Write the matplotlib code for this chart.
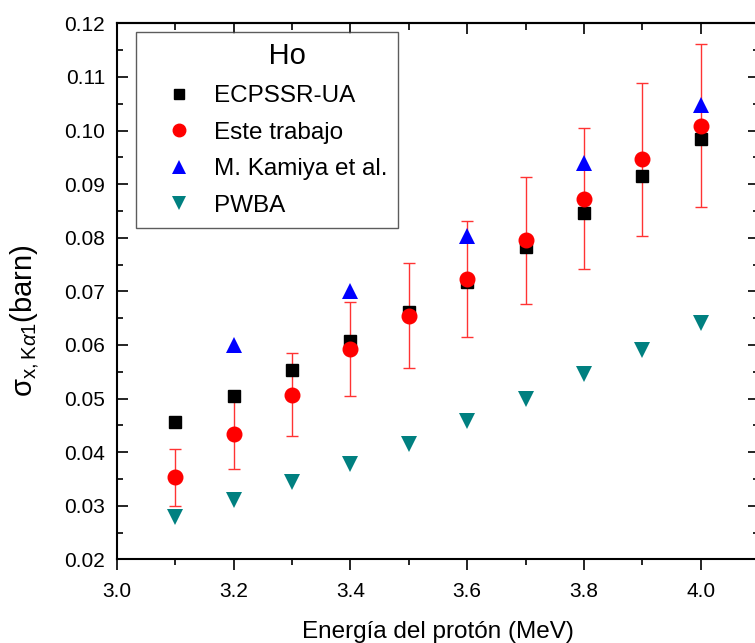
"""Ho K-alpha1 x-ray production cross sections vs proton energy."""

import matplotlib

matplotlib.use("Agg")
import matplotlib.pyplot as plt
from matplotlib.lines import Line2D
from matplotlib.ticker import MultipleLocator

plt.rcParams["font.family"] = ["Liberation Sans", "DejaVu Sans"]
plt.rcParams["mathtext.fontset"] = "custom"
plt.rcParams["mathtext.rm"] = "Liberation Sans"
plt.rcParams["mathtext.it"] = "Liberation Sans:italic"
plt.rcParams["mathtext.sf"] = "Liberation Sans"

# proton energy (MeV)
energy = [3.1, 3.2, 3.3, 3.4, 3.5, 3.6, 3.7, 3.8, 3.9, 4.0]
ecpssr_ua = [0.0456, 0.0505, 0.0553, 0.0607, 0.0662, 0.0718, 0.0783, 0.0847, 0.0915, 0.0985]
este_trabajo = [0.0353, 0.0433, 0.0507, 0.0592, 0.0654, 0.0723, 0.0795, 0.0873, 0.0946, 0.1009]
este_err = [0.0053, 0.0065, 0.0077, 0.0088, 0.0098, 0.0108, 0.0119, 0.0131, 0.0142, 0.0152]
pwba = [0.0279, 0.0310, 0.0344, 0.0377, 0.0416, 0.0458, 0.0500, 0.0545, 0.0591, 0.0641]

kamiya_energy = [3.2, 3.4, 3.6, 3.8, 4.0]
kamiya = [0.0600, 0.0700, 0.0804, 0.0940, 0.1048]

RED = "#ff0000"
BLUE = "#0000ff"
TEAL = "#008080"

fig = plt.figure(figsize=(7.55, 6.43), dpi=100)
# right spine sits just beyond the picture edge, as in the original export
ax = fig.add_axes([117 / 755, 83.7 / 643, 642 / 755, 536 / 643])

ax.errorbar(energy, este_trabajo, yerr=este_err, fmt="none", ecolor="#ff3333",
            elinewidth=1.0, capsize=4, capthick=1.0, zorder=2)
ax.plot(energy, ecpssr_ua, "s", color="black", markersize=8.5, zorder=3)
ax.plot(energy, este_trabajo, "o", color=RED, markersize=10.5, zorder=4)
ax.plot(kamiya_energy, kamiya, "^", color=BLUE, markersize=11, markeredgewidth=0, zorder=5)
ax.plot(energy, pwba, "v", color=TEAL, markersize=11, markeredgewidth=0, zorder=3)

ax.set_xlim(3.0, 4.1)
ax.set_ylim(0.02, 0.12)
ax.xaxis.set_major_locator(MultipleLocator(0.2))
ax.xaxis.set_minor_locator(MultipleLocator(0.1))
ax.yaxis.set_major_locator(MultipleLocator(0.01))
ax.yaxis.set_minor_locator(MultipleLocator(0.005))
ax.xaxis.set_major_formatter(lambda v, p: f"{v:.1f}")
ax.yaxis.set_major_formatter(lambda v, p: f"{v:.2f}")

ax.tick_params(axis="x", which="both", direction="out", top=False, labelsize=15,
               width=1.2, pad=8)
ax.tick_params(axis="x", which="major", length=8)
ax.tick_params(axis="x", which="minor", length=4.5)
ax.tick_params(axis="y", which="both", direction="in", right=True, labelsize=15,
               width=1.2, pad=8.5)
ax.tick_params(axis="y", which="major", length=8)
ax.tick_params(axis="y", which="minor", length=4)

top = ax.secondary_xaxis("top")
top.xaxis.set_major_locator(MultipleLocator(0.2))
top.xaxis.set_minor_locator(MultipleLocator(0.1))
top.tick_params(which="both", direction="in", labeltop=False, width=1.2)
top.tick_params(which="major", length=8)
top.tick_params(which="minor", length=5)
top.spines["top"].set_linewidth(1.5)

for side in ax.spines.values():
    side.set_linewidth(1.5)

ax.set_xlabel("Energía del protón (MeV)", fontsize=17.5)
ax.xaxis.set_label_coords(0.5, -0.115)
ax.set_ylabel(r"$\mathrm{σ}_{\mathrm{x,K}\alpha 1}$(barn)", fontsize=21)
ax.yaxis.set_label_coords(-0.118, 0.445)

handles = [
    Line2D([], [], ls="none", marker="s", color="black", markersize=7),
    Line2D([], [], ls="none", marker="o", color=RED, markersize=9),
    Line2D([], [], ls="none", marker="^", color=BLUE, markersize=10, markeredgewidth=0),
    Line2D([], [], ls="none", marker="v", color=TEAL, markersize=10, markeredgewidth=0),
]
labels = ["ECPSSR-UA", "Este trabajo", "M. Kamiya et al.", "PWBA"]
# leading spaces push the title a little right, over the text column
leg = ax.legend(handles, labels, title="     Ho", loc="upper left",
                bbox_to_anchor=(19 / 642, 1 - 8.5 / 536), borderaxespad=0,
                fontsize=17.5, title_fontsize=21, fancybox=False, frameon=True,
                edgecolor="#333333", handletextpad=0.1, labelspacing=0.6,
                borderpad=0.44, handlelength=2.65)
leg.get_frame().set_linewidth(1.0)

fig.savefig("out.png", dpi=100)
